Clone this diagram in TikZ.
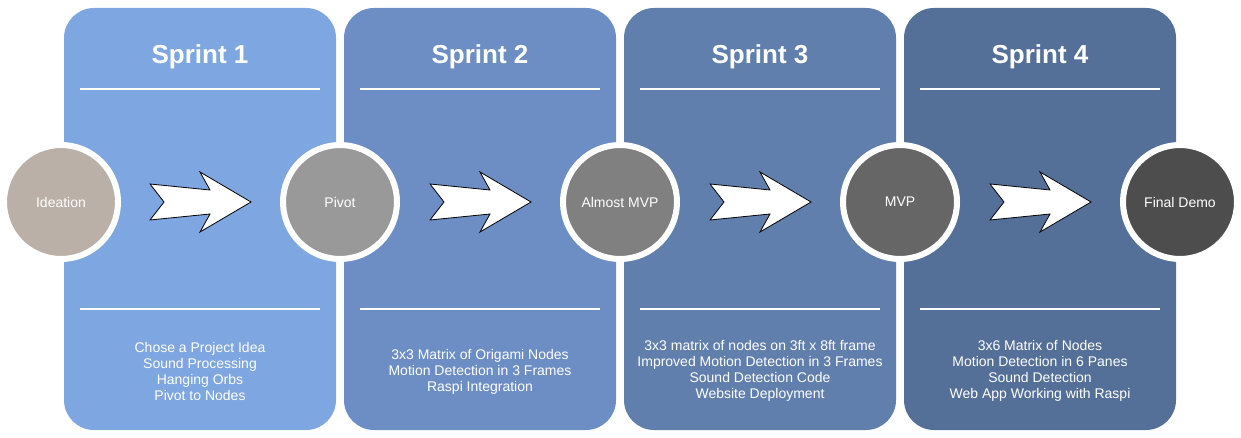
\documentclass[tikz,border=0pt]{standalone}
\usepackage{fontspec}
\setmainfont{Liberation Sans}
\definecolor{sprintone}{HTML}{7EA6E0}
\definecolor{sprinttwo}{HTML}{6C8EC4}
\definecolor{sprintthree}{HTML}{607FAD}
\definecolor{sprintfour}{HTML}{546F98}
\definecolor{ideagray}{HTML}{BAB0A7}
\definecolor{pivotgray}{HTML}{999999}
\definecolor{almostgray}{HTML}{808080}
\definecolor{mvpgray}{HTML}{666666}
\definecolor{demogray}{HTML}{4D4D4D}
\begin{document}
\begin{tikzpicture}[x=1pt,y=-1pt,
    panel/.style={rounded corners=30pt},
    divider/.style={white,line width=2pt},
    title/.style={text=white,font=\fontsize{26}{30}\selectfont\bfseries},
    notes/.style={text=white,align=center,font=\fontsize{14}{16}\selectfont},
    milestone/.style={circle,draw=white,line width=6pt,minimum size=114pt,inner sep=0pt,text=white,font=\fontsize{14}{16}\selectfont},
    flow/.style={fill=white,draw=black,line width=0.8pt,line join=miter}]
    \useasboundingbox (0,0) rectangle (1241,438);
    \fill[panel,sprintone] (64,8) rectangle (336,430);
    \fill[panel,sprinttwo] (344,8) rectangle (616,430);
    \fill[panel,sprintthree] (624,8) rectangle (896,430);
    \fill[panel,sprintfour] (904,8) rectangle (1176,430);
    \node[title] (s1) at (200,57) {Sprint 1};
    \node[title] (s2) at (480,57) {Sprint 2};
    \node[title] (s3) at (760,57) {Sprint 3};
    \node[title] (s4) at (1040,57) {Sprint 4};
    \draw[divider] (80,89) -- (320,89);
    \draw[divider] (360,89) -- (600,89);
    \draw[divider] (640,89) -- (880,89);
    \draw[divider] (920,89) -- (1160,89);
    \draw[divider] (80,309) -- (320,309);
    \draw[divider] (360,309) -- (600,309);
    \draw[divider] (640,309) -- (880,309);
    \draw[divider] (920,309) -- (1160,309);
    \node[notes] (n1) at (200,371) {Chose a Project Idea\\Sound Processing\\Hanging Orbs\\Pivot to Nodes};
    \node[notes] (n2) at (480,371.5) {3x3 Matrix of Origami Nodes\\Motion Detection in 3 Frames\\Raspi Integration};
    \node[notes] (n3) at (760,371) {3x3 matrix of nodes on 3ft x 8ft frame\\Improved Motion Detection in 3 Frames\\Sound Detection Code\\Website Deployment};
    \node[notes] (n4) at (1040,371) {3x6 Matrix of Nodes\\Motion Detection in 6 Panes\\Sound Detection\\Web App Working with Raspi};
    \draw[flow] (150,184) -- (210,190) -- (200,172) -- (251,202) -- (200,232) -- (210,214) -- (150,220) -- (164,202) -- cycle;
    \draw[flow,xshift=280pt] (150,184) -- (210,190) -- (200,172) -- (251,202) -- (200,232) -- (210,214) -- (150,220) -- (164,202) -- cycle;
    \draw[flow,xshift=560pt] (150,184) -- (210,190) -- (200,172) -- (251,202) -- (200,232) -- (210,214) -- (150,220) -- (164,202) -- cycle;
    \draw[flow,xshift=840pt] (150,184) -- (210,190) -- (200,172) -- (251,202) -- (200,232) -- (210,214) -- (150,220) -- (164,202) -- cycle;
    \node[milestone,fill=ideagray] (ideation) at (61,202) {Ideation};
    \node[milestone,fill=pivotgray] (pivot) at (340,202) {Pivot};
    \node[milestone,fill=almostgray] (almost) at (620,202) {Almost MVP};
    \node[milestone,fill=mvpgray] (mvp) at (900,202) {MVP};
    \node[milestone,fill=demogray] (demo) at (1180,202) {Final Demo};
\end{tikzpicture}
\end{document}
